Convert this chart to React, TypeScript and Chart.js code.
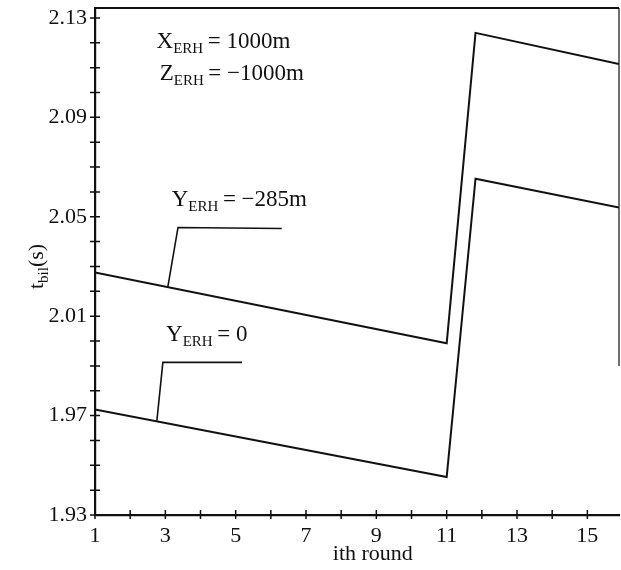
import React, { useEffect, useRef } from "react";
import { Chart, registerables } from "chart.js";

Chart.register(...registerables);

// ---- data ----
const upperX = [1, 11, 11.82, 15.9];
const upperY = [2.0276, 1.9991, 2.124, 2.1115];
const lowerX = [1, 11, 11.82, 15.9];
const lowerY = [1.9725, 1.9453, 2.0653, 2.0537];

// leader lines for the two callouts
const leaderUpperX = [3.07, 3.36, 6.31];
const leaderUpperY = [2.0217, 2.0457, 2.0453];
const leaderLowerX = [2.76, 2.93, 5.18];
const leaderLowerY = [1.968, 1.9914, 1.9914];

// ---- ticks ----
const xTickValues = [1, 2, 3, 4, 5, 6, 7, 8, 9, 10, 11, 12, 13, 14, 15];
const xTickLabels = ["1", "3", "5", "7", "9", "11", "13", "15"];
const yTickValues = [
  1.93, 1.94, 1.95, 1.96, 1.97, 1.98, 1.99, 2.0, 2.01, 2.02, 2.03, 2.04, 2.05,
  2.06, 2.07, 2.08, 2.09, 2.1, 2.11, 2.12, 2.13,
];
const yTickLabels = ["1.93", "1.97", "2.01", "2.05", "2.09", "2.13"];

// ---- annotation texts ----
const noteMain = ["X", "Z", "Y", "Y"];
const noteSub = ["ERH", "ERH", "ERH", "ERH"];
const noteRest = ["\u2009= 1000m", "\u2009= \u22121000m", "\u2009= \u2212285m", "\u2009= 0"];
const noteX = [2.75, 2.84, 3.18, 3.02];
const noteY = [2.118, 2.105, 2.0545, 1.9999];

const xTitle = "ith round";
const yTitleMain = "t";
const yTitleSub = "bil";
const yTitleRest = "(s)";

const FONT = "'Liberation Serif', 'DejaVu Serif', serif";
const INK = "#111";

function zip(xs: number[], ys: number[]) {
  return xs.map((x, i) => ({ x, y: ys[i] }));
}

function drawSubText(
  ctx: CanvasRenderingContext2D,
  x: number,
  y: number,
  main: string,
  sub: string,
  rest: string,
  big: number,
  small: number,
  drop: number
) {
  ctx.textBaseline = "alphabetic";
  ctx.textAlign = "left";
  ctx.font = `${big}px ${FONT}`;
  ctx.fillText(main, x, y);
  let cx = x + ctx.measureText(main).width;
  ctx.font = `${small}px ${FONT}`;
  ctx.fillText(sub, cx, y + drop);
  cx += ctx.measureText(sub).width;
  ctx.font = `${big}px ${FONT}`;
  ctx.fillText(rest, cx, y);
  cx += ctx.measureText(rest).width;
  return cx - x;
}

const decorPlugin = {
  id: "decor",
  afterDraw(chart: any) {
    const ctx: CanvasRenderingContext2D = chart.ctx;
    const xs = chart.scales.x;
    const ys = chart.scales.y;
    const area = chart.chartArea;
    ctx.save();
    ctx.strokeStyle = INK;
    ctx.fillStyle = INK;

    // crossing tick marks
    ctx.lineWidth = 1.5;
    ctx.beginPath();
    for (const v of yTickValues) {
      const py = ys.getPixelForValue(v);
      ctx.moveTo(area.left - 5, py);
      ctx.lineTo(area.left + 5, py);
    }
    for (const v of xTickValues) {
      const px = xs.getPixelForValue(v);
      ctx.moveTo(px, area.bottom - 5);
      ctx.lineTo(px, area.bottom + 4);
    }
    ctx.stroke();

    // frame: top and right
    ctx.lineWidth = 2.2;
    ctx.beginPath();
    ctx.moveTo(area.left, area.top);
    ctx.lineTo(area.right, area.top);
    ctx.stroke();
    ctx.lineWidth = 1.2;
    ctx.beginPath();
    ctx.moveTo(area.right, area.top);
    ctx.lineTo(area.right, ys.getPixelForValue(1.99));
    ctx.stroke();

    // annotations
    for (let i = 0; i < noteMain.length; i++) {
      drawSubText(
        ctx,
        xs.getPixelForValue(noteX[i]),
        ys.getPixelForValue(noteY[i]),
        noteMain[i],
        noteSub[i],
        noteRest[i],
        23,
        15,
        5
      );
    }

    // x title
    ctx.font = `22px ${FONT}`;
    ctx.textAlign = "center";
    ctx.textBaseline = "alphabetic";
    ctx.fillText(xTitle, xs.getPixelForValue(8.9), 560);

    // y title (rotated)
    ctx.save();
    ctx.translate(36, ys.getPixelForValue(2.03));
    ctx.rotate(-Math.PI / 2);
    ctx.font = `22px ${FONT}`;
    const w1 = ctx.measureText(yTitleMain).width;
    ctx.font = `15px ${FONT}`;
    const w2 = ctx.measureText(yTitleSub).width;
    ctx.font = `22px ${FONT}`;
    const w3 = ctx.measureText(yTitleRest).width;
    drawSubText(ctx, -(w1 + w2 + w3) / 2, 7, yTitleMain, yTitleSub, yTitleRest, 22, 15, 5);
    ctx.restore();

    ctx.restore();
  },
};

export default function App() {
  const ref = useRef<HTMLCanvasElement | null>(null);

  useEffect(() => {
    if (!ref.current) return;
    const lineStyle = {
      borderColor: INK,
      borderWidth: 2,
      pointRadius: 0,
      tension: 0,
      fill: false,
    };
    const chart = new Chart(ref.current, {
      type: "line",
      data: {
        datasets: [
          { label: "Y_ERH = -285m", data: zip(upperX, upperY), ...lineStyle },
          { label: "Y_ERH = 0", data: zip(lowerX, lowerY), ...lineStyle },
          { label: "leader1", data: zip(leaderUpperX, leaderUpperY), ...lineStyle, borderWidth: 1.6 },
          { label: "leader2", data: zip(leaderLowerX, leaderLowerY), ...lineStyle, borderWidth: 1.6 },
        ],
      },
      options: {
        responsive: false,
        animation: false,
        layout: { padding: { top: 8, right: 2, left: 0, bottom: 0 } },
        plugins: { legend: { display: false }, tooltip: { enabled: false } },
        scales: {
          x: {
            type: "linear",
            min: 1,
            max: 15.9,
            afterBuildTicks: (scale: any) => {
              scale.ticks = xTickValues.map((v) => ({ value: v }));
            },
            afterFit: (scale: any) => {
              scale.height = 55;
              scale.paddingLeft = 0;
              scale.paddingRight = 0;
            },
            ticks: {
              autoSkip: false,
              maxRotation: 0,
              padding: 8,
              color: INK,
              font: { family: FONT, size: 22 },
              callback: (v: any) => (xTickLabels.includes(String(v)) ? String(v) : ""),
            },
            grid: { drawOnChartArea: false, drawTicks: false },
            border: { display: true, color: INK, width: 2.2 },
          },
          y: {
            type: "linear",
            min: 1.93,
            max: 2.134,
            afterBuildTicks: (scale: any) => {
              scale.ticks = yTickValues.map((v) => ({ value: v }));
            },
            afterFit: (scale: any) => {
              scale.width = 95;
              scale.paddingTop = 0;
              scale.paddingBottom = 0;
            },
            ticks: {
              autoSkip: false,
              padding: 8,
              color: INK,
              font: { family: FONT, size: 22 },
              callback: (v: any) => {
                const s = Number(v).toFixed(2);
                return yTickLabels.includes(s) ? s : "";
              },
            },
            grid: { drawOnChartArea: false, drawTicks: false },
            border: { display: true, color: INK, width: 2.2 },
          },
        },
      },
      plugins: [decorPlugin],
    });
    return () => chart.destroy();
  }, []);

  return (
    <div style={{ position: "absolute", left: 0, top: 0, width: 621, height: 570, background: "#fff" }}>
      <canvas ref={ref} width={621} height={570} style={{ display: "block" }} />
    </div>
  );
}
